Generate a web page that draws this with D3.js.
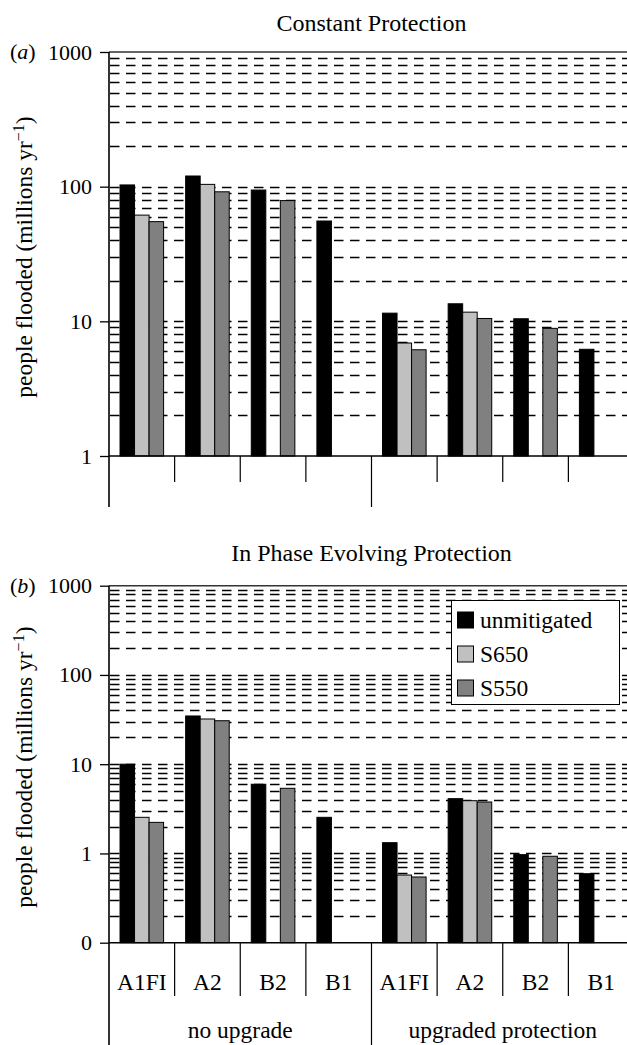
<!DOCTYPE html>
<html>
<head>
<meta charset="utf-8">
<script src="https://cdn.jsdelivr.net/npm/d3@7"></script>
<style>
  html, body { margin: 0; padding: 0; background: #fff; }
  svg { display: block; }
  svg text, svg tspan { font-family: "Liberation Serif", "Times New Roman", serif !important; fill: #000; }
</style>
</head>
<body>
<svg id="chart" width="627" height="1045"></svg>
<script>
// ---------------- data ----------------
const categories = ["A1FI", "A2", "B2", "B1", "A1FI", "A2", "B2", "B1"];
const groups = ["no upgrade", "upgraded protection"];
const seriesNames = ["unmitigated", "S650", "S550"];
const seriesColors = ["#000000", "#c0c0c0", "#808080"];

// (a) Constant Protection
const constantUnmitigated = [103, 120, 94.4, 55.6, 11.5, 13.5, 10.45, 6.2];
const constantS650        = [61.5, 104, null, null, 6.9, 11.7, null, null];
const constantS550        = [55, 91.6, 78.8, null, 6.15, 10.5, 8.87, null];

// (b) In Phase Evolving Protection
const evolvingUnmitigated = [10, 34.7, 5.96, 2.54, 1.32, 4.11, 0.97, 0.593];
const evolvingS650        = [2.54, 32.1, null, null, 0.573, 3.9, null, null];
const evolvingS550        = [2.23, 30.7, 5.37, null, 0.545, 3.77, 0.93, null];

const ticksA = [1, 10, 100, 1000];
const tickLabelsA = ["1", "10", "100", "1000"];
const ticksB = [0.1, 1, 10, 100, 1000];
const tickLabelsB = ["0", "1", "10", "100", "1000"];

const titleA = "Constant Protection";
const titleB = "In Phase Evolving Protection";
const yLabel = "people flooded (millions yr";

// ---------------- drawing ----------------
const FONT = '"Liberation Serif", "Times New Roman", serif';
const svg = d3.select("#chart").attr("font-family", FONT);
const plotLeft = 109, plotRight = 634;

const x = d3.scaleBand().domain(d3.range(categories.length)).range([plotLeft, plotRight]).paddingInner(0).paddingOuter(0);
const bw = x.bandwidth();
const xs = d3.scaleBand().domain(seriesNames).range([bw * 0.168, bw - bw * 0.168]).padding(0);

function panel(opts) {
  const { top, bottom, domain, ticks, tickLabels, title, titleY, letter, data, showCats, sepBottom, groupBottom, legend } = opts;
  const g = svg.append("g");
  const y = d3.scaleLog().domain(domain).range([bottom, top]);

  // dashed grid lines at every 1..9 multiple inside the domain
  const gridVals = [];
  for (let d = Math.log10(domain[0]); d < Math.log10(domain[1]) - 0.5; d++) {
    const base = Math.pow(10, d);
    for (let m = 1; m <= 9; m++) {
      const v = +(base * m).toPrecision(6);
      if (v > domain[0]) gridVals.push(v);
    }
  }
  g.append("g").selectAll("line").data(gridVals).join("line")
    .attr("x1", plotLeft + 1).attr("x2", 627)
    .attr("y1", d => Math.round(y(d)) + 0.5).attr("y2", d => Math.round(y(d)) + 0.5)
    .attr("stroke", "#000").attr("stroke-width", 1.3)
    .attr("stroke-dasharray", "9.5,6.5");

  // top border
  g.append("line").attr("x1", plotLeft).attr("x2", 627)
    .attr("y1", y(domain[1])).attr("y2", y(domain[1]))
    .attr("stroke", "#333").attr("stroke-width", 1.6);

  // bars
  data.forEach((vals, si) => {
    g.append("g").selectAll("rect").data(vals.map((v, i) => ({ v, i })).filter(d => d.v != null)).join("rect")
      .attr("x", d => x(d.i) + xs(seriesNames[si]))
      .attr("width", xs.bandwidth())
      .attr("y", d => y(d.v))
      .attr("height", d => y(domain[0]) - y(d.v))
      .attr("fill", seriesColors[si])
      .attr("stroke", "#000").attr("stroke-width", 1);
  });

  // baseline
  g.append("line").attr("x1", plotLeft).attr("x2", 627)
    .attr("y1", bottom).attr("y2", bottom)
    .attr("stroke", "#000").attr("stroke-width", 1.5);

  // y axis
  const axis = d3.axisLeft(y).tickValues(ticks).tickFormat((d, i) => tickLabels[i]).tickSize(9).tickPadding(8);
  const ax = g.append("g").attr("transform", `translate(${plotLeft},0)`).call(axis);
  ax.attr("font-family", FONT).attr("font-size", 22);
  ax.select(".domain").remove();
  ax.selectAll(".tick line").attr("stroke", "#000").attr("stroke-width", 1.3);
  ax.selectAll(".tick text").attr("font-size", 22).attr("font-family", FONT).attr("fill", "#000").attr("dy", 7);
  g.append("line").attr("x1", plotLeft).attr("x2", plotLeft)
    .attr("y1", top).attr("y2", groupBottom)
    .attr("stroke", "#000").attr("stroke-width", 1.6);

  // category separators
  const seps = d3.range(1, categories.length + 1);
  g.append("g").selectAll("line").data(seps).join("line")
    .attr("x1", d => plotLeft + d * bw)
    .attr("x2", d => plotLeft + d * bw)
    .attr("y1", bottom)
    .attr("y2", d => d === 4 ? groupBottom : sepBottom)
    .attr("stroke", "#000").attr("stroke-width", 1.2);

  if (showCats) {
    g.append("g").selectAll("text").data(categories).join("text")
      .attr("x", (d, i) => x(i) + bw / 2)
      .attr("y", bottom + 47)
      .attr("text-anchor", "middle").attr("font-size", 23.5).attr("font-family", FONT)
      .text(d => d);
    g.append("g").selectAll("text").data(groups).join("text")
      .attr("x", (d, i) => plotLeft + (i * 4 + 2) * bw)
      .attr("y", bottom + 95)
      .attr("text-anchor", "middle").attr("font-size", 23.5).attr("font-family", FONT)
      .text(d => d);
  }

  // title
  g.append("text").attr("x", (plotLeft + plotRight) / 2).attr("y", titleY)
    .attr("text-anchor", "middle").attr("font-size", 24).attr("font-family", FONT).text(title);

  // panel letter
  const lt = g.append("text").attr("x", 10).attr("y", top + 7).attr("font-size", 22).attr("font-family", FONT);
  lt.append("tspan").text("(");
  lt.append("tspan").attr("font-style", "italic").text(letter);
  lt.append("tspan").text(")");

  // y label
  const yl = g.append("text")
    .attr("transform", `translate(32,${(top + bottom) / 2 + 3}) rotate(-90)`)
    .attr("text-anchor", "middle").attr("font-size", 23.5).attr("font-family", FONT);
  yl.append("tspan").text(yLabel);
  yl.append("tspan").attr("dy", -8).attr("font-size", 16).text("\u22121");
  yl.append("tspan").attr("dy", 8).text(")");

  if (legend) {
    const lg = g.append("g");
    lg.append("rect").attr("x", 451.5).attr("y", 600.5).attr("width", 168).attr("height", 104)
      .attr("fill", "#fff").attr("stroke", "#000").attr("stroke-width", 1);
    const rowY = d3.scalePoint().domain(seriesNames).range([620, 688]);
    seriesNames.forEach((s, i) => {
      lg.append("rect").attr("x", 457.5).attr("y", rowY(s) - 8).attr("width", 16).attr("height", 16)
        .attr("fill", seriesColors[i]).attr("stroke", "#000").attr("stroke-width", 1);
      lg.append("text").attr("x", 480).attr("y", rowY(s) + 7.5).attr("font-size", 23.5).attr("font-family", FONT).text(s);
    });
  }
}

panel({
  top: 52, bottom: 456, domain: [1, 1000], ticks: ticksA, tickLabels: tickLabelsA,
  title: titleA, titleY: 31, letter: "a",
  data: [constantUnmitigated, constantS650, constantS550],
  showCats: false, sepBottom: 482, groupBottom: 507, legend: false
});

panel({
  top: 585.7, bottom: 942.7, domain: [0.1, 1000], ticks: ticksB, tickLabels: tickLabelsB,
  title: titleB, titleY: 561, letter: "b",
  data: [evolvingUnmitigated, evolvingS650, evolvingS550],
  showCats: true, sepBottom: 996, groupBottom: 1045, legend: true
});
</script>
</body>
</html>
